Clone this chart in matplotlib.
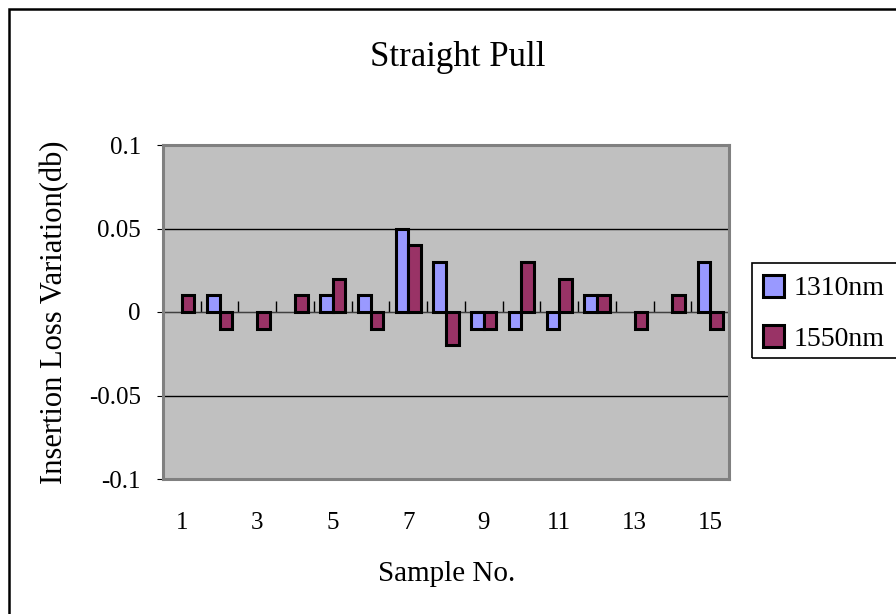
import numpy as np
import matplotlib; matplotlib.use("Agg")
import matplotlib.pyplot as plt
from matplotlib.patches import Rectangle, Patch

samples = list(range(1, 16))
loss_1310 = [0.00, 0.01, 0.00, 0.00, 0.01, 0.01, 0.05, 0.03, -0.01, -0.01, -0.01, 0.01, 0.00, 0.00, 0.03]
loss_1550 = [0.01, -0.01, -0.01, 0.01, 0.02, -0.01, 0.04, -0.02, -0.01, 0.03, 0.02, 0.01, -0.01, 0.01, -0.01]
series_names = ["1310nm", "1550nm"]
y_ticks = [-0.1, -0.05, 0, 0.05, 0.1]
y_tick_labels = ["-0.1", "-0.05", "0", "0.05", "0.1"]
x_label_samples = samples[::2]

plt.rcParams["font.family"] = ["Liberation Serif", "DejaVu Serif"]
C1310, C1550 = "#9999FF", "#993366"

fig = plt.figure(figsize=(8.96, 6.14), dpi=100)
ax = fig.add_axes([163/896, 1-479/614, 566/896, 334/614])
ax.set_facecolor("#C0C0C0")

x = np.array(samples, dtype=float)
w = 1/3
for vals, off, col in [(loss_1310, -w/2, C1310), (loss_1550, w/2, C1550)]:
    lw = [2.2 if v != 0 else 0 for v in vals]
    ax.bar(x + off, vals, width=w, color=col, edgecolor="black", linewidth=lw, zorder=3)

ax.set_xlim(0.5, 15.5)
ax.set_ylim(-0.1, 0.1)
for yv in [-0.05, 0.05, 0.1, -0.1]:
    ax.axhline(yv, color="black", lw=1.0, zorder=1)
ax.axhline(0, color="#404040", lw=1.0, zorder=2)

for s in ax.spines.values():
    s.set_color("#808080"); s.set_linewidth(2.2); s.set_zorder(4)

ax.set_yticks(y_ticks)
ax.set_yticklabels(y_tick_labels, fontsize=18)
ax.tick_params(axis="y", length=4, pad=12, color="black")
ax.set_xticks(x_label_samples)
ax.set_xticklabels([str(s) for s in x_label_samples], fontsize=18)
ax.tick_params(axis="x", length=0, pad=24)

# category ticks on the zero line, between samples, pointing up
sec = ax.secondary_xaxis(0.5)
sec.set_xticks(x[:-1] + 0.5)
sec.set_xticklabels([])
sec.tick_params(direction="out", length=8, width=1.0, color="black")
sec.spines["bottom"].set_visible(False)
for t in sec.xaxis.get_major_ticks():
    t.tick1line.set_marker(2)  # TICKUP

fig.text(458/896, 1-57/614, "Straight Pull", fontsize=25, ha="center", va="center")
fig.text(447/896, 1-574/614, "Sample No.", fontsize=21, ha="center", va="center")
fig.text(55/896, 1-312/614, "Insertion Loss Variation(db)", fontsize=22, rotation=90,
         ha="center", va="center")

# chart border and legend box
fig.patches.append(Rectangle((9/896, -0.05), 1.1, 1-9/614+0.05, transform=fig.transFigure,
                             fill=False, edgecolor="black", lw=1.8, clip_on=False))
fig.patches.append(Rectangle((752/896, 1-358/614), 0.2, 95/614, transform=fig.transFigure,
                             fill=False, edgecolor="black", lw=1.2, clip_on=False))
handles = [Patch(facecolor=C1310, edgecolor="black", lw=2.2),
           Patch(facecolor=C1550, edgecolor="black", lw=2.2)]
fig.legend(handles, series_names, loc="center left", bbox_to_anchor=(744/896, 1-313/614),
           frameon=False, fontsize=20, handlelength=0.75, handleheight=0.85,
           handletextpad=0.35, labelspacing=0.85, borderpad=0.2)

fig.savefig("out.png", dpi=100)
